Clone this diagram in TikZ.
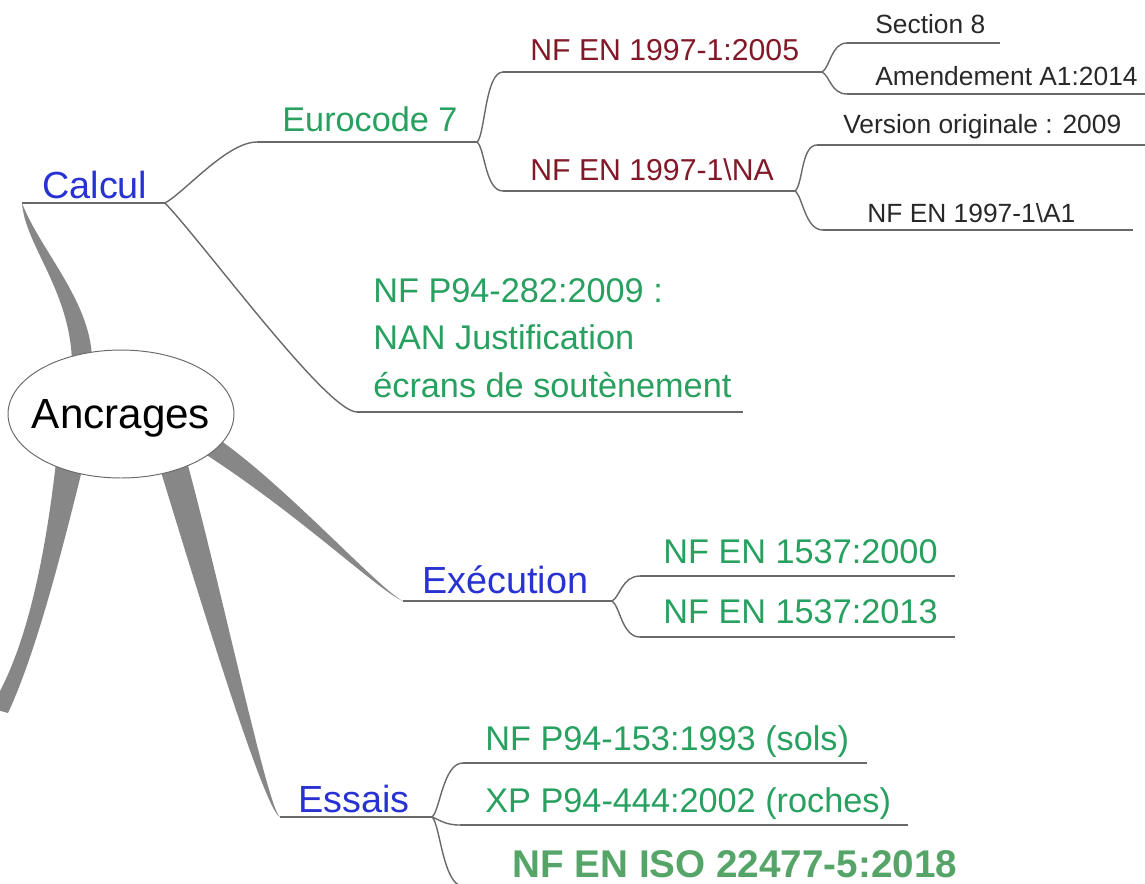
\documentclass[tikz,border=0pt]{standalone}
\usepackage{fontspec}
\setmainfont{Liberation Sans}
\usetikzlibrary{shapes.geometric}
\definecolor{calcblue}{RGB}{40,50,210}
\definecolor{normgreen}{RGB}{40,160,95}
\definecolor{isogreen}{RGB}{85,165,105}
\definecolor{normred}{RGB}{130,25,40}
\definecolor{subblack}{RGB}{40,40,40}
\definecolor{twiggray}{RGB}{105,105,105}
\definecolor{limbgray}{RGB}{135,135,135}
\begin{document}
\begin{tikzpicture}[x=0.02cm,y=-0.02cm,
    twig/.style={draw=twiggray,line width=0.8pt},
    limb/.style={fill=limbgray},
    theme/.style={anchor=base west,inner sep=0,text=calcblue,font=\fontsize{21.5}{26}\selectfont},
    norm/.style={anchor=base west,inner sep=0,text=normgreen,font=\fontsize{19.5}{27}\selectfont},
    part/.style={anchor=base west,inner sep=0,text=normred,font=\fontsize{17.2}{20}\selectfont},
    detail/.style={anchor=base west,inner sep=0,text=subblack,font=\fontsize{15}{18}\selectfont}]
  \useasboundingbox (0,0) rectangle (1145,883);
  \clip (0,0) rectangle (1145,883);

    % underlines
    \draw[twig] (22,203) coordinate (calcul-l) -- (165,203) coordinate (calcul-r);
    \draw[twig] (257,142) coordinate (euro-l) -- (477,142) coordinate (euro-r);
    \draw[twig] (503,72) coordinate (en2005-l) -- (822,72) coordinate (en2005-r);
    \draw[twig] (503,191) coordinate (na-l) -- (795,191) coordinate (na-r);
    \draw[twig] (847,43) coordinate (sec8-l) -- (1000,43);
    \draw[twig] (847,94) coordinate (amd-l) -- (1145,94);
    \draw[twig] (817,145) coordinate (vers-l) -- (1145,145);
    \draw[twig] (823,230) coordinate (a1-l) -- (1133,230);
    \draw[twig] (357,412) coordinate (nan-l) -- (743,412);
    \draw[twig] (403,601) coordinate (exec-l) -- (612,601) coordinate (exec-r);
    \draw[twig] (640,576) coordinate (e2000-l) -- (955,576);
    \draw[twig] (640,637) coordinate (e2013-l) -- (955,637);
    \draw[twig] (280,817) coordinate (essais-l) -- (432,817) coordinate (essais-r);
    \draw[twig] (463,763) coordinate (sols-l) -- (867,763);
    \draw[twig] (460,825) coordinate (roches-l) -- (908,825);
    \coordinate (iso-l) at (463,886);

    % thick branches out of the ellipse
    \fill[limb] (calcul-l) .. controls (25,245) and (70,290) .. (72,362) -- (92,358) .. controls (90,300) and (40,250) .. (calcul-l) -- cycle;
    \fill[limb] (220,440) .. controls (290,490) and (380,590) .. (exec-l) .. controls (380,592) and (300,515) .. (202,452) -- cycle;
    \fill[limb] (158,462) .. controls (200,600) and (265,812) .. (essais-l) .. controls (268,810) and (222,590) .. (186,458) -- cycle;
    \fill[limb] (56,462) .. controls (45,560) and (25,655) .. (-10,708) -- (8,713) .. controls (35,655) and (60,560) .. (84,462) -- cycle;

    \node[ellipse,draw=twiggray,fill=white,line width=0.55pt,minimum width=4.52cm,minimum height=2.56cm,inner sep=0] (ancrages) at (121,414) {};
    \node[inner sep=0,text depth=0pt,font=\fontsize{24}{28}\selectfont] (ancrages-lbl) at (ancrages.center) {Ancrages};

    % forks
    \draw[twig] (calcul-r) .. controls +(20,-11) and +(-30,0) .. (euro-l);
    \draw[twig] (calcul-r) .. controls +(40,42) and +(-30,0) .. (nan-l);
    \draw[twig] (euro-r) .. controls +(8,-6) and +(-18,0) .. (en2005-l);
    \draw[twig] (euro-r) .. controls +(8,6) and +(-18,0) .. (na-l);
    \draw[twig] (en2005-r) .. controls +(8,-4) and +(-16,0) .. (sec8-l);
    \draw[twig] (en2005-r) .. controls +(8,4) and +(-16,0) .. (amd-l);
    \draw[twig] (na-r) .. controls +(8,-6) and +(-16,0) .. (vers-l);
    \draw[twig] (na-r) .. controls +(8,6) and +(-18,0) .. (a1-l);
    \draw[twig] (exec-r) .. controls +(8,-4) and +(-18,0) .. (e2000-l);
    \draw[twig] (exec-r) .. controls +(8,5) and +(-18,0) .. (e2013-l);
    \draw[twig] (essais-r) .. controls +(8,-6) and +(-20,0) .. (sols-l);
    \draw[twig] (essais-r) .. controls +(8,3) and +(-15,0) .. (roches-l);
    \draw[twig] (essais-r) .. controls +(8,6) and +(-20,0) .. (iso-l);

    % labels
    \node[theme] (calcul) at (42,198) {Calcul};
    \node[norm] (euro) at (282,131) {Eurocode 7};
    \node[part] (en2005) at (530,60) {NF EN 1997-1:2005};
    \node[part] (na) at (530,180) {NF EN 1997-1\textbackslash NA};
    \node[detail] (sec8) at (875,33) {Section 8};
    \node[detail] (amd) at (875,85) {Amendement A1:2014};
    \node[detail] (vers) at (843,133) {Version originale : 2009};
    \node[detail] (a1) at (867,222) {NF EN 1997-1\textbackslash A1};
    \node[norm,anchor=north west,align=left] (nan) at (373,278) {NF P94-282:2009 :\\NAN Justification\\écrans de soutènement};
    \node[theme] (exec) at (422,593) {Exécution};
    \node[norm] (e2000) at (663,563) {NF EN 1537:2000};
    \node[norm] (e2013) at (663,623) {NF EN 1537:2013};
    \node[theme] (essais) at (298,812) {Essais};
    \node[norm] (sols) at (485,750) {NF P94-153:1993 (sols)};
    \node[norm] (roches) at (485,812) {XP P94-444:2002 (roches)};
    \node[norm,text=isogreen,font=\fontsize{22}{26}\selectfont\bfseries] (iso) at (512,877) {NF EN ISO 22477-5:2018};

\end{tikzpicture}
\end{document}
